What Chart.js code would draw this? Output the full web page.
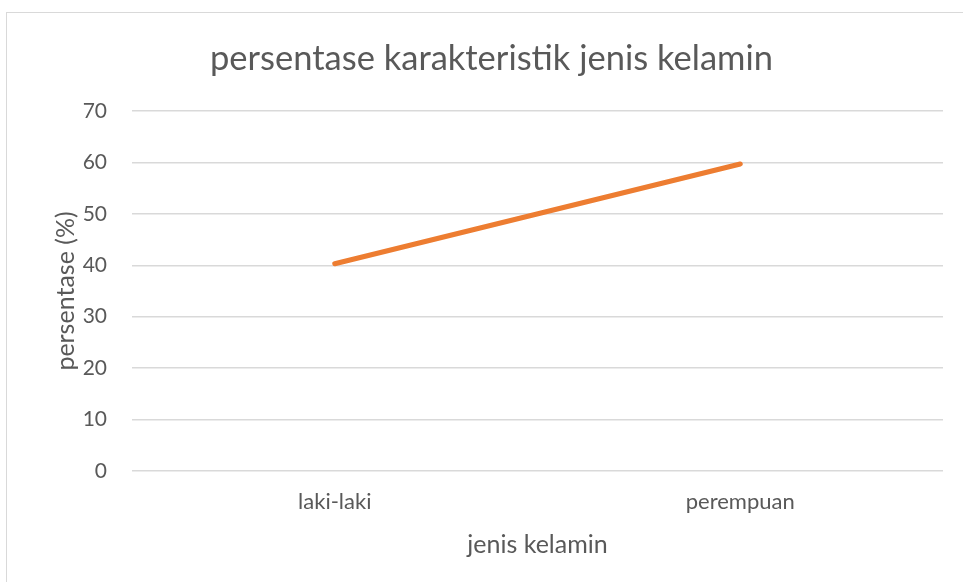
<!DOCTYPE html>
<html>
<head>
<meta charset="utf-8">
<script src="https://cdn.jsdelivr.net/npm/chart.js@4/dist/chart.umd.min.js"></script>
<style>
  html, body { margin: 0; padding: 0; background: #fff; overflow: hidden; }
  #frame { position: absolute; left: 6px; top: 12px; width: 1000px; height: 600px; border: 1px solid #d9d9d9; }
  #wrap { position: absolute; left: 0; top: 0; width: 963px; height: 582px; }
</style>
</head>
<body>
<div id="frame"></div>
<div id="wrap"><canvas id="grafik"></canvas></div>
<script>
// data dari gambar
const kategori = ['laki-laki', 'perempuan'];
const persentase = [40.3, 59.7];
const judul = 'persentase karakteristik jenis kelamin';

const abu = '#595959';
const fontUtama = 'Lato, "Open Sans", sans-serif';

const ctx = document.getElementById('grafik').getContext('2d');
window.myChart = new Chart(ctx, {
    type: 'line',
    data: {
        labels: kategori,
        datasets: [{
            label: 'persentase',
            data: persentase,
            borderColor: '#ed7d31',
            backgroundColor: '#ed7d31',
            borderWidth: 5,
            borderCapStyle: 'round',
            pointRadius: 0,
            tension: 0
        }]
    },
    options: {
        responsive: true,
        maintainAspectRatio: false,
        animation: false,
        layout: { padding: { left: 40, right: 20, top: 0, bottom: 0 } },
        plugins: {
            legend: { display: false },
            tooltip: { enabled: false },
            title: {
                display: true,
                text: judul,
                color: abu,
                font: { family: fontUtama, size: 34.5, weight: 'normal' },
                padding: { top: 38, bottom: 31.6 }
            }
        },
        scales: {
            x: {
                offset: true,
                grid: { display: false },
                border: { display: false },
                ticks: { color: abu, padding: 10, font: { family: fontUtama, size: 22 } },
                title: {
                    display: true,
                    text: 'jenis kelamin',
                    color: abu,
                    font: { family: fontUtama, size: 25 },
                    padding: { top: 0, bottom: 22 }
                },
                afterFit: function(scale) { scale.height = 111; }
            },
            y: {
                min: 0,
                max: 70,
                ticks: { stepSize: 10, color: abu, padding: 25, font: { family: fontUtama, size: 21 } },
                grid: { color: '#d9d9d9', lineWidth: 1.5, drawTicks: false },
                border: { display: false },
                title: {
                    display: true,
                    text: 'persentase (%)',
                    color: abu,
                    font: { family: fontUtama, size: 25 },
                    padding: { top: 11, bottom: 0 }
                },
                afterFit: function(scale) { scale.width = 92; }
            }
        }
    }
});
</script>
</body>
</html>
